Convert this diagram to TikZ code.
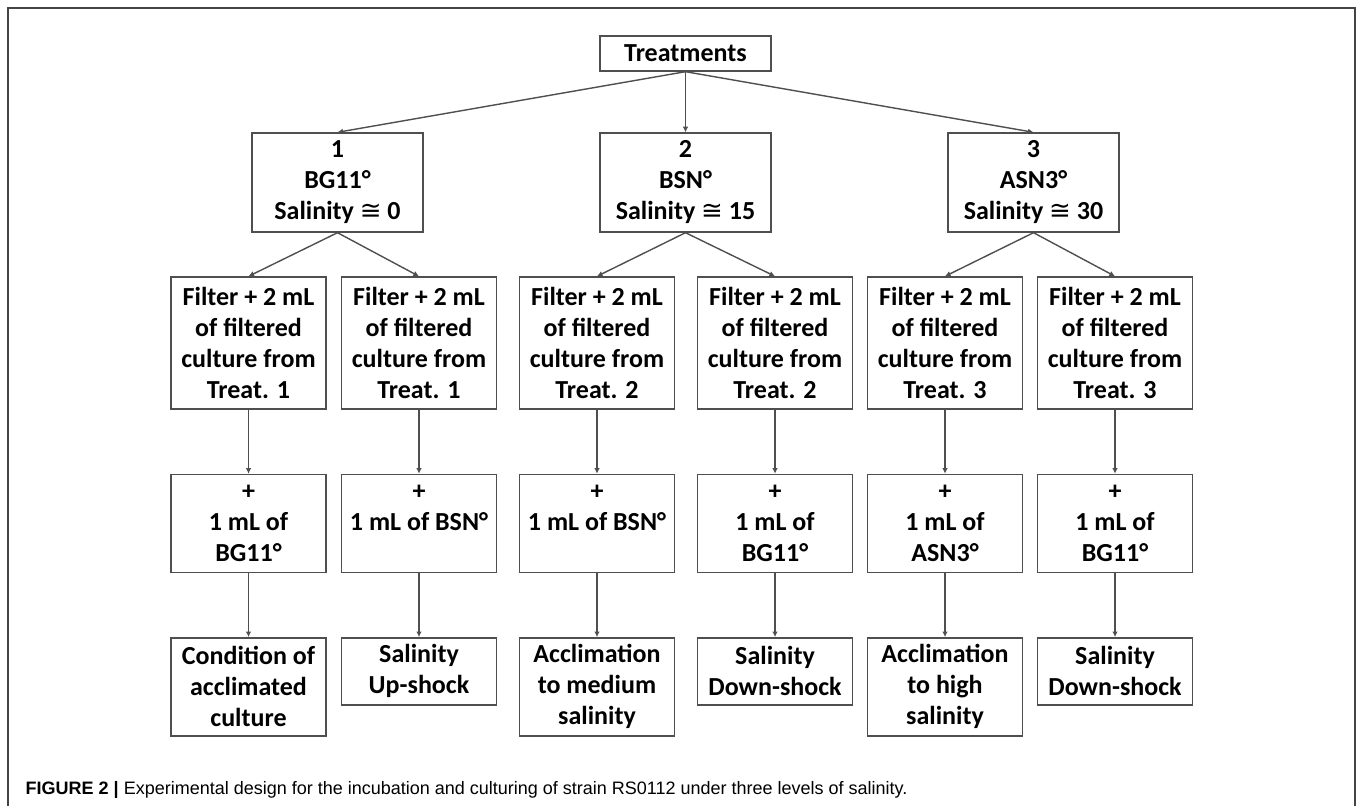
\documentclass[tikz,border=0pt]{standalone}
\usepackage{fontspec}
\setmainfont{Carlito}
\setsansfont{Liberation Sans}
\newfontfamily\symfont{DejaVu Sans}
\usetikzlibrary{arrows.meta, positioning}
\definecolor{boxgray}{HTML}{4F4F4F}
\definecolor{framegray}{HTML}{444444}
\newcommand{\approxeq}{{\symfont\mdseries ≅}}

\begin{document}
\begin{tikzpicture}[x=0.5pt, y=-0.5pt, >={Latex[length=2.8pt,width=2.8pt]}, node distance=32pt, line width=0.7pt,
        box/.style={draw=boxgray, align=center, inner sep=0pt, font=\fontsize{13}{15.5}\selectfont\bfseries},
        topbox/.style={box, minimum width=85.5pt, minimum height=17.5pt},
        treatbox/.style={box, minimum width=85.5pt, minimum height=49.5pt},
        colbox/.style={box, minimum width=77.5pt, minimum height=49pt},
        filterbox/.style={colbox, minimum height=66pt},
        shortbox/.style={colbox, minimum height=33.5pt}]
        \useasboundingbox (0,0) rectangle (1358,806);
        \draw[framegray, line width=1pt] (8,806) -- (8,8) -- (1355,8) -- (1355,806);

        \node[topbox] (t) at (685.5,53.5) {Treatments};
        \node[treatbox] (b1) at (337.5,182.5) {1\\BG11°\\Salinity \approxeq{} 0};
        \node[treatbox] (b2) at (685.5,182.5) {2\\BSN°\\Salinity \approxeq{} 15};
        \node[treatbox] (b3) at (1033.5,182.5) {3\\ASN3°\\Salinity \approxeq{} 30};

        \node[filterbox] (f1) at (248.5,343) {Filter + 2 mL\\of filtered\\culture from\\Treat. 1};
        \node[filterbox] (f2) at (419,343) {Filter + 2 mL\\of filtered\\culture from\\Treat. 1};
        \node[filterbox] (f3) at (597,343) {Filter + 2 mL\\of filtered\\culture from\\Treat. 2};
        \node[filterbox] (f4) at (775,343) {Filter + 2 mL\\of filtered\\culture from\\Treat. 2};
        \node[filterbox] (f5) at (945,343) {Filter + 2 mL\\of filtered\\culture from\\Treat. 3};
        \node[filterbox] (f6) at (1115,343) {Filter + 2 mL\\of filtered\\culture from\\Treat. 3};

        \node[colbox] (m1) [below=of f1] {+\\1 mL of\\BG11°};
        \node[colbox] (m2) [below=of f2] {+\\1 mL of BSN°\\~};
        \node[colbox] (m3) [below=of f3] {+\\1 mL of BSN°\\~};
        \node[colbox] (m4) [below=of f4] {+\\1 mL of\\BG11°};
        \node[colbox] (m5) [below=of f5] {+\\1 mL of\\ASN3°};
        \node[colbox] (m6) [below=of f6] {+\\1 mL of\\BG11°};

        \node[colbox] (r1) [below=of m1] {Condition of\\acclimated\\culture};
        \node[shortbox] (r2) [below=of m2] {Salinity\\Up-shock};
        \node[colbox] (r3) [below=of m3] {Acclimation\\to medium\\salinity};
        \node[shortbox] (r4) [below=of m4] {Salinity\\Down-shock};
        \node[colbox] (r5) [below=of m5] {Acclimation\\to high\\salinity};
        \node[shortbox] (r6) [below=of m6] {Salinity\\Down-shock};

        \path[->, color=boxgray]
        (t.south) edge (b1.north)
        (t.south) edge (b2.north)
        (t.south) edge (b3.north)
        (b1.south) edge (f1.north)
        (b1.south) edge (f2.north)
        (b2.south) edge (f3.north)
        (b2.south) edge (f4.north)
        (b3.south) edge (f5.north)
        (b3.south) edge (f6.north)
        ;
        \foreach \i in {1,...,6}
        {
            \draw[->, boxgray] (f\i) -- (m\i);
            \draw[->, boxgray] (m\i) -- (r\i);
        }

        \node[anchor=base west, inner sep=0pt, font=\sffamily\fontsize{9}{11}\selectfont] (cap) at (25,794)
        {\textbf{FIGURE 2 |} Experimental design for the incubation and culturing of strain RS0112 under three levels of salinity.};
\end{tikzpicture}
\end{document}
